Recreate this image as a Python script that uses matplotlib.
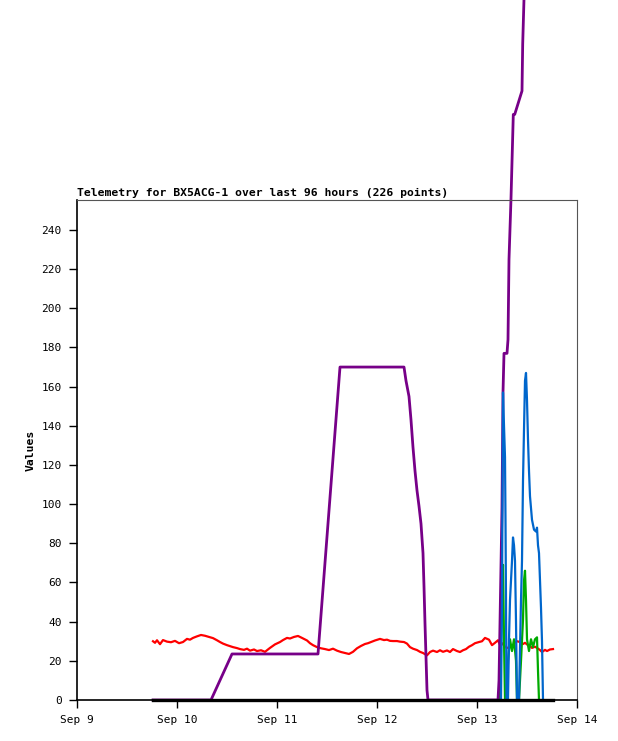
import matplotlib
matplotlib.use("Agg")
from matplotlib import pyplot as plt

# time in days after Sep 9 00:00
black_t = [0.76, 4.76]
black_v = [0, 0]

red_t = [0.76, 0.78, 0.80, 0.83, 0.86, 0.90, 0.94, 0.98, 1.02, 1.06, 1.10, 1.13, 1.16, 1.20,
         1.24, 1.28, 1.32, 1.36, 1.40, 1.43, 1.46, 1.50, 1.53, 1.56, 1.60, 1.63, 1.67, 1.70,
         1.73, 1.77, 1.80, 1.84, 1.88, 1.93, 1.98, 2.03, 2.06, 2.10, 2.13, 2.17, 2.21, 2.25,
         2.30, 2.33, 2.36, 2.40, 2.44, 2.48, 2.52, 2.56, 2.60, 2.64, 2.68, 2.72, 2.76, 2.80,
         2.84, 2.88, 2.91, 2.94, 2.98, 3.03, 3.07, 3.10, 3.13, 3.16, 3.20, 3.23, 3.27, 3.30,
         3.33, 3.36, 3.40, 3.43, 3.46, 3.50, 3.53, 3.56, 3.60, 3.63, 3.66, 3.70, 3.73, 3.76,
         3.80, 3.83, 3.86, 3.89, 3.92, 3.95, 3.98, 4.02, 4.05, 4.08, 4.12, 4.15, 4.18, 4.21,
         4.23, 4.25, 4.28, 4.30, 4.33, 4.36, 4.38, 4.40, 4.43, 4.46, 4.48, 4.51, 4.53, 4.55,
         4.58, 4.60, 4.63, 4.65, 4.68, 4.70, 4.73, 4.76]
red_v = [30.0, 29.2, 30.5, 28.5, 30.6, 29.8, 29.5, 30.2, 29.0, 29.6, 31.2, 30.8, 31.7, 32.5,
         33.2, 32.8, 32.2, 31.6, 30.5, 29.6, 28.8, 28.0, 27.5, 27.0, 26.5, 26.0, 25.6, 26.2,
         25.2, 25.8, 25.0, 25.4, 24.6, 26.6, 28.4, 29.6, 30.6, 31.7, 31.4, 32.2, 32.7, 31.7,
         30.4, 29.0, 28.0, 27.0, 26.4, 26.0, 25.5, 26.2, 25.2, 24.5, 24.0, 23.5, 24.6, 26.4,
         27.6, 28.6, 29.0, 29.6, 30.4, 31.2, 30.6, 30.8, 30.2, 30.1, 30.1, 29.8, 29.6, 28.8,
         27.0, 26.2, 25.5, 24.6, 24.0, 22.8, 24.5, 25.2, 24.5, 25.4, 24.6, 25.3, 24.5, 26.0,
         25.0, 24.5, 25.4, 26.0, 27.2, 28.0, 29.0, 29.6, 30.0, 31.7, 30.8, 28.0, 29.2, 30.5,
         28.2, 29.0, 27.2, 26.6, 27.0, 27.6, 29.4, 30.0, 29.6, 28.6, 29.2, 28.0, 27.6, 26.6,
         27.2, 26.6, 25.5, 24.5, 25.6, 25.0, 25.8, 26.0]

purple_t = [0.76, 1.34, 1.55, 2.41, 2.63, 3.27, 3.29, 3.32, 3.34, 3.36, 3.38, 3.40, 3.42,
            3.44, 3.46, 3.47, 3.48, 3.50, 3.51, 4.21, 4.22, 4.25, 4.26, 4.27, 4.30, 4.31,
            4.32, 4.34, 4.355, 4.363, 4.377, 4.45, 4.457, 4.47, 4.48]
purple_v = [0, 0, 23.5, 23.5, 170, 170, 163, 155, 143, 129, 117, 107, 99,
            90, 75, 58, 39, 5, 0, 0, 10, 98, 157, 177, 177, 184,
            225, 256, 284, 299, 299, 311, 335, 358, 380]

blue_t = [4.24, 4.25, 4.26, 4.27, 4.28, 4.285, 4.29, 4.295, 4.31, 4.32, 4.33, 4.35, 4.36,
          4.37, 4.38, 4.39, 4.40, 4.42, 4.43, 4.44, 4.45, 4.46, 4.47, 4.48, 4.49, 4.50,
          4.51, 4.52, 4.53, 4.55, 4.57, 4.59, 4.60, 4.61, 4.62, 4.63, 4.64, 4.65, 4.66]
blue_v = [0, 51, 157, 140, 124, 92, 51, 0, 0, 31, 51, 71, 83,
          79, 71, 40, 0, 0, 26, 51, 71, 112, 138, 163, 167, 153,
          133, 117, 104, 92, 87, 86, 88, 79, 75, 61, 47, 30, 0]

green_t = [4.23, 4.24, 4.25, 4.26, 4.27, 4.28, 4.30, 4.31, 4.33, 4.35, 4.37, 4.39, 4.40,
           4.42, 4.44, 4.46, 4.47, 4.48, 4.49, 4.50, 4.52, 4.54, 4.56, 4.58, 4.60, 4.61,
           4.62]
green_v = [0, 31, 52, 69, 31, 0, 0, 20, 31, 25, 31, 20, 0,
           0, 20, 41, 61, 66, 51, 31, 25, 31, 27, 31, 32, 15,
           0]

day_ticks = [0, 1, 2, 3, 4, 5]
day_labels = ["Sep 9", "Sep 10", "Sep 11", "Sep 12", "Sep 13", "Sep 14"]
y_ticks = list(range(0, 241, 20))

plt.rcParams['font.family'] = ['DejaVu Sans Mono']
fig = plt.figure(figsize=(6.18, 7.41), dpi=100)
ax = fig.add_axes([77 / 618, 41 / 741, 500 / 618, 500 / 741])

lw = 1.6
ax.plot(red_t, red_v, color='#ff0000', lw=lw, clip_on=False)
ax.plot(green_t, green_v, color='#00aa00', lw=lw, clip_on=False)
ax.plot(purple_t, purple_v, color='#770088', lw=2.0, clip_on=False)
ax.plot(blue_t, blue_v, color='#0066cc', lw=lw, clip_on=False)
ax.plot(black_t, black_v, color='black', lw=2.4, clip_on=False)

ax.set_xlim(0, 5)
ax.set_ylim(0, 255.3)
ax.set_xticks(day_ticks)
ax.set_xticklabels(day_labels)
ax.set_yticks(y_ticks)
ax.tick_params(labelsize=8, length=6, width=1, direction='out', pad=5)
for s in ['top', 'right']:
    ax.spines[s].set_color('#555555')
for s in ['left', 'bottom']:
    ax.spines[s].set_color('black')
    ax.spines[s].set_linewidth(1.2)

ax.set_title("Telemetry for BX5ACG-1 over last 96 hours (226 points)", loc='left',
             fontsize=8.2, fontweight='bold', pad=3)
ax.set_ylabel("Values", fontsize=8.2, fontweight='bold', labelpad=4)

fig.savefig('out.png', dpi=100)
